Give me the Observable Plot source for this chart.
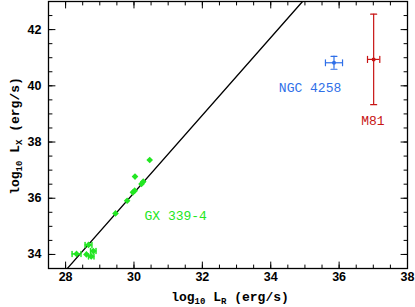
<!DOCTYPE html>
<html><head><meta charset="utf-8">
<script src="https://cdn.jsdelivr.net/npm/d3@7"></script>
<script src="https://cdn.jsdelivr.net/npm/@observablehq/plot@0.6"></script>
<style>body{margin:0;background:#fff;}</style>
</head><body><div id="chart"></div>
<script>
// GX 339-4 (log L_R, log L_X)
const gxX    = [30.46, 30.03, 30.27, 30.22, 30.02, 29.97, 29.80, 29.46, 28.67, 28.32, 28.61, 28.81, 28.75];
const gxY    = [37.36, 36.77, 36.59, 36.51, 36.27, 36.21, 35.91, 35.46, 34.34, 34.02, 34.00, 34.12, 33.93];
const gxXerr = [0, 0, 0, 0, 0, 0, 0, 0, 0.10, 0.13, 0, 0.08, 0.08];
// AGN
const agnName = ["NGC 4258", "M81"];
const agnX    = [35.85, 37.01];
const agnY    = [40.82, 40.94];
const agnXerr = [0.25, 0.18];
const agnYerr = [0.23, 1.61];
const agnColor = ["#2f6fe8", "#c81414"];
// correlation line endpoints
const lineX = [28.05, 34.93];
const lineY = [33.5, 43.0];
// label annotations
const labelText = ["GX 339-4", "NGC 4258", "M81"];
const labelX = [31.22, 35.15, 36.99];
const labelY = [35.38, 39.93, 38.75];
const labelColor = ["#22e622", "#2f6fe8", "#c81414"];
// ticks
const xTicks = [28, 30, 32, 34, 36, 38];
const yTicks = [34, 36, 38, 40, 42];
const xMinor = d3.range(28, 38.01, 0.5);
const yMinor = d3.range(34, 43.01, 0.5);

const green = "#22e622";
const gx = gxX.map((x, i) => ({x, y: gxY[i], xerr: gxXerr[i]}));
const gxErr = gx.filter(d => d.xerr > 0);
const agn = agnName.map((n, i) => ({n, x: agnX[i], y: agnY[i], xerr: agnXerr[i], yerr: agnYerr[i], c: agnColor[i]}));
const line = lineX.map((x, i) => ({x, y: lineY[i]}));
const labels = labelText.map((t, i) => ({t, x: labelX[i], y: labelY[i], c: labelColor[i]}));

const seg = {draw(ctx, l) { ctx.moveTo(0, 0); ctx.lineTo(0, -l); }};
const tickOpts = (data, anchor, rotate, len) => Plot.vector(data, {
  [anchor === "bottom" || anchor === "top" ? "x" : "y"]: d => d,
  frameAnchor: anchor, rotate, length: len, anchor: "start", shape: seg, stroke: "black", strokeWidth: 1
});

const svg = Plot.plot({
  width: 415, height: 307,
  marginLeft: 48, marginRight: 8, marginTop: 1, marginBottom: 39,
  x: {domain: [27.5, 38]},
  y: {domain: [33.5, 43]},
  style: {fontFamily: "'Liberation Sans', Arial, sans-serif", fontSize: "13px", color: "black", background: "white"},
  marks: [
    Plot.line(line, {x: "x", y: "y", stroke: "black", strokeWidth: 1.3, clip: true}),
    // GX error bars
    Plot.ruleY(gxErr, {y: "y", x1: d => d.x - d.xerr, x2: d => d.x + d.xerr, stroke: green, strokeWidth: 1.5}),
    Plot.vector(gxErr, {x: d => d.x - d.xerr, y: "y", length: 5, rotate: 0, anchor: "middle", shape: seg, stroke: green, strokeWidth: 1.5}),
    Plot.vector(gxErr, {x: d => d.x + d.xerr, y: "y", length: 5, rotate: 0, anchor: "middle", shape: seg, stroke: green, strokeWidth: 1.5}),
    Plot.dot(gx, {x: "x", y: "y", r: 3, fill: green, symbol: "diamond2"}),
    // AGN error bars
    Plot.ruleY(agn, {y: "y", x1: d => d.x - d.xerr, x2: d => d.x + d.xerr, stroke: "c", strokeWidth: 1.2}),
    Plot.ruleX(agn, {x: "x", y1: d => d.y - d.yerr, y2: d => d.y + d.yerr, stroke: "c", strokeWidth: 1.2}),
    Plot.vector(agn, {x: d => d.x - d.xerr, y: "y", length: 6, rotate: 0, anchor: "middle", shape: seg, stroke: "c", strokeWidth: 1.2}),
    Plot.vector(agn, {x: d => d.x + d.xerr, y: "y", length: 6, rotate: 0, anchor: "middle", shape: seg, stroke: "c", strokeWidth: 1.2}),
    Plot.vector(agn, {x: "x", y: d => d.y - d.yerr, length: 6, rotate: 90, anchor: "middle", shape: seg, stroke: "c", strokeWidth: 1.2}),
    Plot.vector(agn, {x: "x", y: d => d.y + d.yerr, length: 6, rotate: 90, anchor: "middle", shape: seg, stroke: "c", strokeWidth: 1.2}),
    Plot.dot(agn, {x: "x", y: "y", r: 2, fill: "c"}),
    // labels
    Plot.text(labels, {x: "x", y: "y", text: "t", fill: "c", fontFamily: "'Liberation Mono', 'Courier New', monospace", fontSize: 13}),
    // frame and ticks
    Plot.frame({stroke: "black", strokeWidth: 1.3}),
    tickOpts(xMinor, "bottom", 0, 3.5), tickOpts(xTicks, "bottom", 0, 6.5),
    tickOpts(xMinor, "top", 180, 3.5), tickOpts(xTicks, "top", 180, 6.5),
    tickOpts(yMinor, "left", 90, 3.5), tickOpts(yTicks, "left", 90, 6.5),
    tickOpts(yMinor, "right", -90, 3.5), tickOpts(yTicks, "right", -90, 6.5),
    Plot.axisX({ticks: xTicks, tickSize: 0, tickPadding: 4, label: null, fontSize: 12.5, fontWeight: "bold"}),
    Plot.axisY({ticks: yTicks, tickSize: 0, tickPadding: 7, label: null, fontSize: 12.5, fontWeight: "bold"})
  ]
});

const s = d3.select(svg);
const mono = "'Liberation Mono', 'Courier New', monospace";
function axisLabel(g, sub) {
  g.attr("font-family", mono).attr("font-size", 13).attr("font-weight", "bold").attr("fill", "black");
  g.append("tspan").text("log");
  g.append("tspan").attr("dy", 3).attr("font-size", 9).text("10");
  g.append("tspan").attr("dy", -3).text(" L");
  g.append("tspan").attr("dy", 3).attr("font-size", 9).text(sub);
  g.append("tspan").attr("dy", -3).text(" (erg/s)");
}
axisLabel(s.append("text").attr("x", 230).attr("y", 301).attr("text-anchor", "middle"), "R");
axisLabel(s.append("text").attr("transform", "translate(19,136) rotate(-90)").attr("text-anchor", "middle"), "X");
document.getElementById("chart").appendChild(svg);
</script>
</body></html>
